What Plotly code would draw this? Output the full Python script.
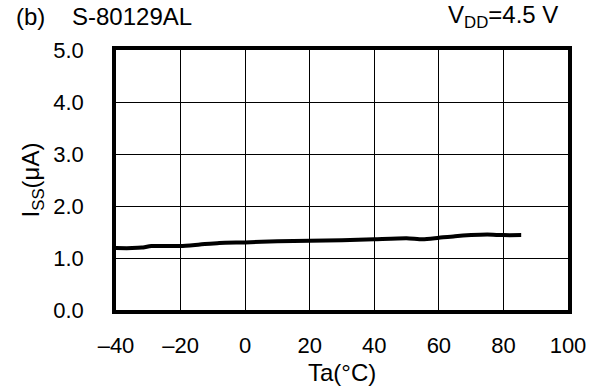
import plotly.graph_objects as go

# Supply current vs. ambient temperature, S-80129AL at VDD = 4.5 V
temperature_c = [-40, -35, -32, -29, -20, -14, -8, 0, 10, 20, 30, 40, 50, 55, 60, 65, 70, 75, 80, 85.5]
iss_ua = [1.19, 1.19, 1.20, 1.23, 1.23, 1.26, 1.29, 1.30, 1.32, 1.33, 1.34, 1.36, 1.38, 1.36, 1.39, 1.42, 1.44, 1.45, 1.44, 1.44]

x_ticks = [-40, -20, 0, 20, 40, 60, 80, 100]
x_tick_text = ["\u201340", "\u201320", "0", "20", "40", "60", "80", "100"]
y_ticks = [0, 1, 2, 3, 4, 5]

FONT = "Liberation Sans, Arial, sans-serif"
tick_font = dict(family=FONT, size=22, color="black")
title_font = dict(family=FONT, size=24, color="black")

fig = go.Figure()
fig.add_trace(go.Scatter(
    x=temperature_c, y=iss_ua, mode="lines",
    line=dict(color="black", width=4, shape="spline", smoothing=0.6),
    showlegend=False, hoverinfo="skip",
))

axis_common = dict(
    showgrid=True, gridcolor="black", gridwidth=1,
    showline=True, linecolor="black", linewidth=3.5, mirror=True,
    zeroline=False, ticks="",
    tickfont=tick_font,
)

fig.update_xaxes(
    range=[-40, 100], tickvals=x_ticks, ticktext=x_tick_text,
    ticklabelstandoff=13,
    **axis_common,
)
fig.update_yaxes(
    range=[0, 5], tickvals=y_ticks, tickformat=".1f",
    ticklabelstandoff=24,
    title=dict(text="I<sub>SS</sub>(μA)", font=title_font, standoff=8),
    **axis_common,
)

# x-axis title placed just under the tick labels
fig.add_annotation(text="Ta(°C)", xref="paper", yref="paper", x=0.5, y=-0.242,
                   xanchor="center", yanchor="middle", showarrow=False, font=title_font)

# Panel label, part number and supply voltage above the plot
fig.add_annotation(text="(b)", xref="paper", yref="paper", x=-0.226, y=1.127,
                   xanchor="left", yanchor="middle", showarrow=False, font=title_font)
fig.add_annotation(text="S-80129AL", xref="paper", yref="paper", x=-0.101, y=1.127,
                   xanchor="left", yanchor="middle", showarrow=False, font=title_font)
fig.add_annotation(text="V<sub>DD</sub>=4.5 V", xref="paper", yref="paper", x=0.982, y=1.127,
                   xanchor="right", yanchor="middle", showarrow=False, font=title_font)

fig.update_layout(
    width=598, height=390,
    margin=dict(l=116, r=27, t=50, b=80),
    paper_bgcolor="white", plot_bgcolor="white",
    font=dict(family=FONT, color="black"),
)

fig.write_html("out.html")
